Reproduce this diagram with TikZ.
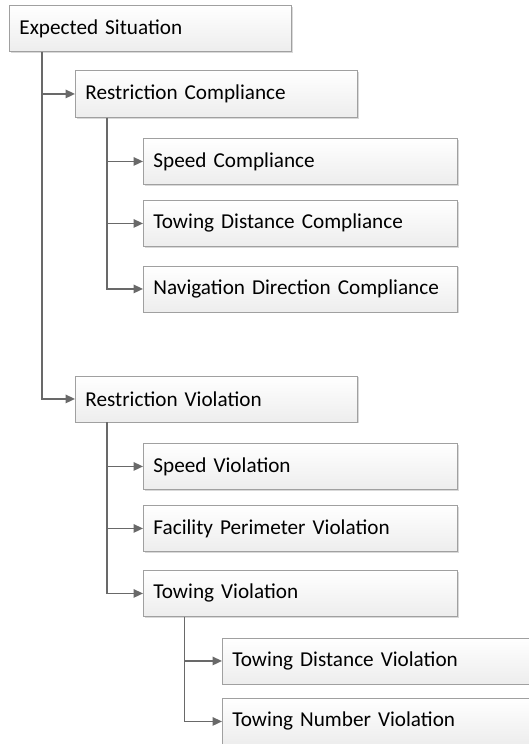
\documentclass[tikz,border=0pt]{standalone}
\usepackage{fontspec}
\setmainfont{Carlito}
\usetikzlibrary{arrows.meta,shadows}
\definecolor{boxline}{RGB}{160,160,160}
\definecolor{connline}{RGB}{105,105,105}
\tikzset{
  box/.style={draw=boxline, line width=0.9pt, top color=white, bottom color=black!7,
    drop shadow={shadow xshift=1.2pt, shadow yshift=-1.2pt, opacity=0.15, fill=black},
    anchor=north west, minimum height=46pt, inner xsep=10pt, align=left,
    font=\fontsize{21.2}{25}\selectfont},
  conn/.style={draw=connline, line width=1.6pt, -{Triangle[length=9.5pt,width=8.5pt]}}
}
\begin{document}
\begin{tikzpicture}[x=1pt,y=-1pt]
  \useasboundingbox (0,0) rectangle (529,744);
  \node[box, text width=262pt] (exp) at (9,5) {Expected Situation};
  \node[box, text width=262pt, minimum height=47pt] (rc) at (75,70) {Restriction Compliance};
  \node[box, text width=294pt] (sc) at (143,138) {Speed Compliance};
  \node[box, text width=294pt] (tdc) at (143,200) {Towing Distance Compliance};
  \node[box, text width=294pt] (ndc) at (143,265.5) {Navigation Direction Compliance};
  \node[box, text width=262pt] (rv) at (75,375.5) {Restriction Violation};
  \node[box, text width=294pt] (sv) at (143,443) {Speed Violation};
  \node[box, text width=294pt] (fpv) at (143,505) {Facility Perimeter Violation};
  \node[box, text width=294pt] (tv) at (143,570) {Towing Violation};
  \node[box, text width=320pt] (tdv) at (222,637.5) {Towing Distance Violation};
  \node[box, text width=320pt] (tnv) at (222,698) {Towing Number Violation};
  \draw[conn] ([xshift=32.7pt]exp.south west) |- (rc.west);
  \draw[conn] ([xshift=32.7pt]exp.south west) |- (rv.west);
  \draw[conn] ([xshift=32pt]rc.south west) |- (sc.west);
  \draw[conn] ([xshift=32pt]rc.south west) |- (tdc.west);
  \draw[conn] ([xshift=32pt]rc.south west) |- (ndc.west);
  \draw[conn] ([xshift=32pt]rv.south west) |- (sv.west);
  \draw[conn] ([xshift=32pt]rv.south west) |- (fpv.west);
  \draw[conn] ([xshift=32pt]rv.south west) |- (tv.west);
  \draw[conn] ([xshift=41.3pt]tv.south west) |- (tdv.west);
  \draw[conn] ([xshift=41.3pt]tv.south west) |- (tnv.west);
\end{tikzpicture}
\end{document}
